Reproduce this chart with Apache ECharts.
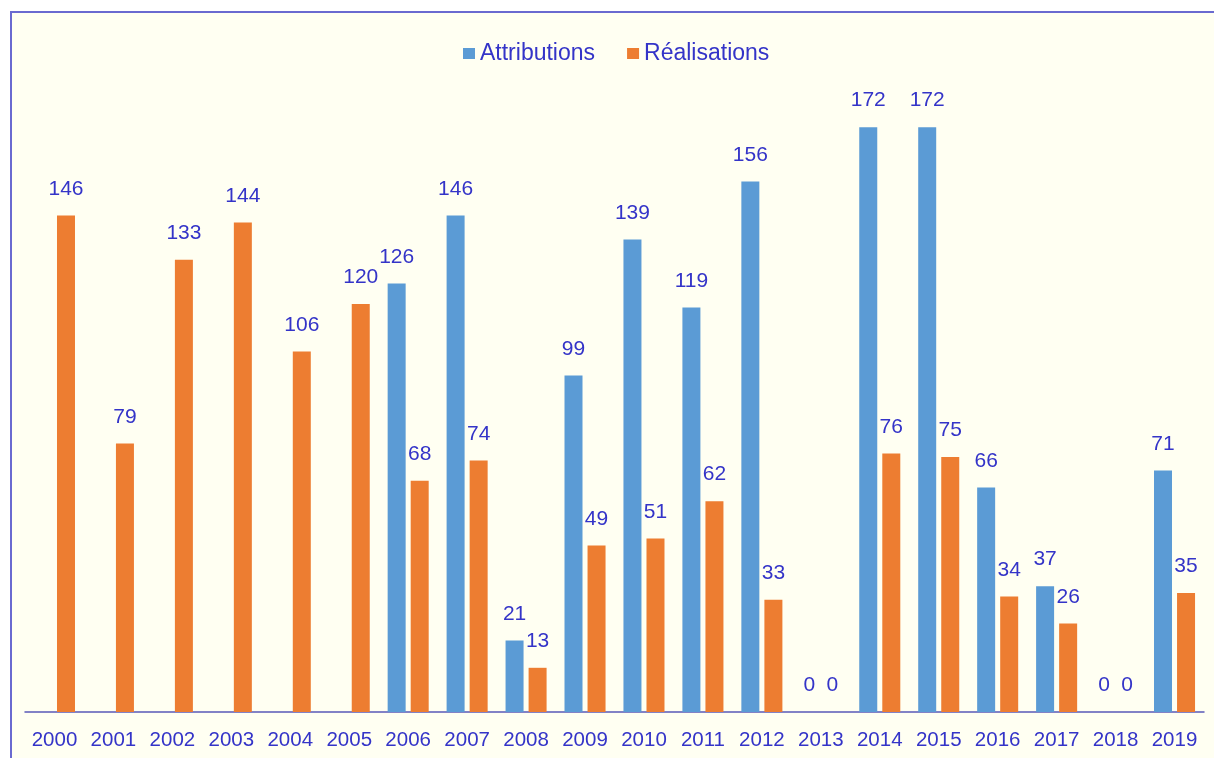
<!DOCTYPE html>
<html>
<head>
<meta charset="utf-8">
<script src="https://cdn.jsdelivr.net/npm/echarts@6/dist/echarts.min.js"></script>
<style>
html,body{margin:0;padding:0;background:#ffffff;}
#frame{position:absolute;left:10px;top:11px;width:1204px;height:747px;background:#fffff2;border-left:2px solid #6a6ad0;border-top:2px solid #6a6ad0;box-sizing:border-box;}
#chart{position:absolute;left:0;top:0;width:1214px;height:758px;}
</style>
</head>
<body>
<div id="frame"></div>
<div id="chart"></div>
<script>
const categories = ['2000','2001','2002','2003','2004','2005','2006','2007','2008','2009','2010','2011','2012','2013','2014','2015','2016','2017','2018','2019'];
const attributions = [null,null,null,null,null,null,126,146,21,99,139,119,156,0,172,172,66,37,0,71];
const realisations = [146,79,133,144,106,120,68,74,13,49,51,62,33,0,76,75,34,26,0,35];
const seriesNames = ['Attributions','Réalisations'];

const textColor = '#3434c8';
const chart = echarts.init(document.getElementById('chart'), null, {renderer:'canvas'});
const labelOpt = {
  show: true, position: 'top', distance: 16,
  color: textColor, fontSize: 21, fontFamily: 'Liberation Sans, Arial, sans-serif'
};
chart.setOption({
  backgroundColor: 'transparent',
  animation: false,
  legend: {
    left: 458, top: 37, icon: 'rect',
    itemWidth: 12, itemHeight: 11, itemGap: 32,
    textStyle: {color: textColor, fontSize: 23, fontFamily: 'Liberation Sans, Arial, sans-serif'},
    data: seriesNames
  },
  grid: {left: 25, right: 10, top: 32, bottom: 46},
  xAxis: {
    type: 'category', data: categories,
    axisLine: {lineStyle: {color: '#5a5ab8', width: 1.5}},
    axisTick: {show: false},
    axisLabel: {interval: 0, color: textColor, fontSize: 20.5, margin: 18, fontFamily: 'Liberation Sans, Arial, sans-serif'}
  },
  yAxis: {type: 'value', min: 0, max: 200, show: false, splitLine: {show: false}},
  series: [
    {name: seriesNames[0], type: 'bar', data: attributions, barWidth: 18, barGap: '28%',
     itemStyle: {color: '#5b9bd5'}, label: labelOpt},
    {name: seriesNames[1], type: 'bar', data: realisations, barWidth: 18, barGap: '28%',
     itemStyle: {color: '#ed7d31'}, label: labelOpt}
  ]
});
</script>
</body>
</html>
